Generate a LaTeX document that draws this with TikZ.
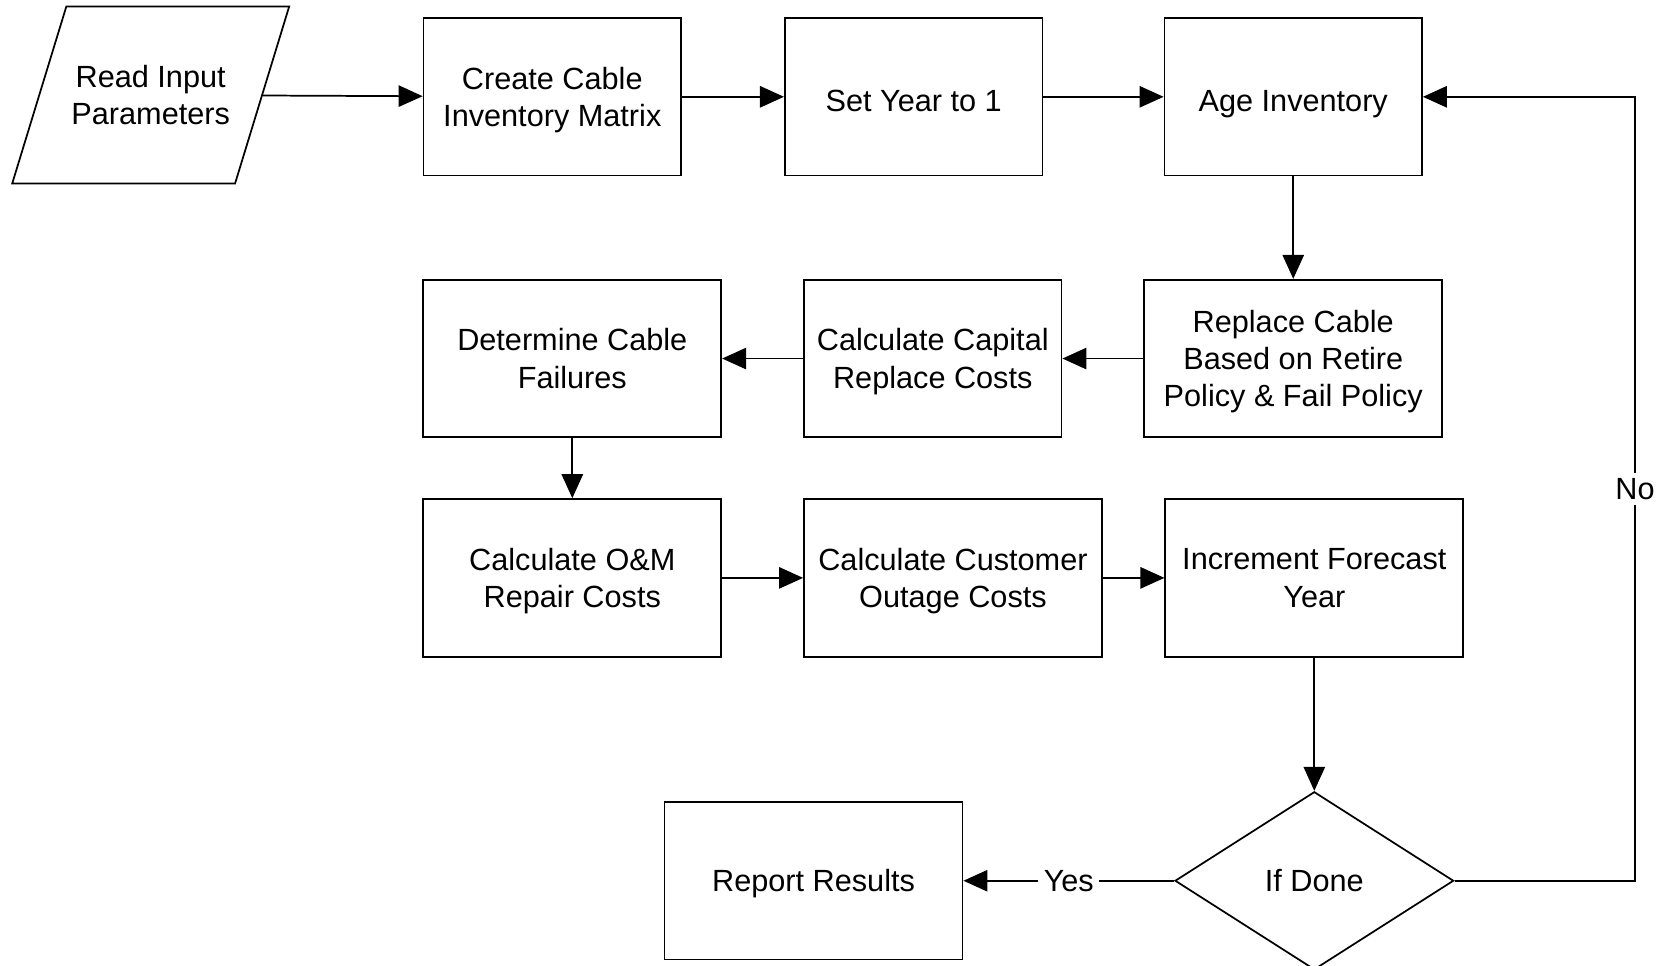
\documentclass[tikz,border=0pt]{standalone}
\usepackage{fontspec}
\setmainfont{Liberation Sans}
\usetikzlibrary{positioning,arrows.meta,shapes.geometric}

\begin{document}
\begin{tikzpicture}[x=0.75pt, y=-0.75pt, font=\fontsize{23}{28}\selectfont, line width=1.3pt,
  txt/.style={align=center, text depth=-4.8pt},
  low/.style={execute at begin node={\rule{0pt}{21.3pt}}},
  box/.style={draw, txt, minimum width=193.2pt, minimum height=118.2pt, inner sep=2pt},
  wbox/.style={box, minimum width=223.5pt},
  io/.style={draw, txt, trapezium, trapezium left angle=73, trapezium right angle=107, trapezium stretches body=true,
    minimum width=207.75pt, minimum height=124.5pt, inner xsep=0pt, inner ysep=44.1pt},
  dec/.style={draw, diamond, minimum width=209pt, minimum height=133.5pt, inner sep=0pt},
  arr/.style={-{Triangle[length=18pt, width=16pt]}},
  lbl/.style={fill=white, inner sep=4pt}]
\useasboundingbox (0,0) rectangle (1669,965);
% top row
\node[io] (rip) at (150.7,95) {Read Input\\Parameters};
\node[box] (ccim) at (552.3,96.8) {Create Cable\\Inventory Matrix};
\node[box, low, right=76.5pt of ccim] (sy1) {Set Year to 1}; \node[box, low, right=90.2pt of sy1] (age) {Age Inventory};
\draw[arr] (rip) -- (ccim); \draw[arr] (ccim) -- (sy1); \draw[arr] (sy1) -- (age);
% second row, right to left
\node[wbox, below=76.8pt of age] (rcp) {Replace Cable\\Based on Retire\\Policy \& Fail Policy};
\node[box, left=60.7pt of rcp] (ccrc) {Calculate Capital\\Replace Costs};
\node[wbox, left=60.7pt of ccrc] (dcf) {Determine Cable\\Failures};
\draw[arr] (age) -- (rcp); \draw[arr] (rcp) -- (ccrc); \draw[arr] (ccrc) -- (dcf);
% third row
\node[wbox, below=45pt of dcf] (omr) {Calculate O\&M\\Repair Costs};
\node[wbox, right=60.7pt of omr] (coc) {Calculate Customer\\Outage Costs};
\node[wbox, right=46.2pt of coc] (ify) {Increment Forecast\\Year};
\draw[arr] (dcf) -- (omr); \draw[arr] (omr) -- (coc); \draw[arr] (coc) -- (ify);
% decision and loop back
\node[dec, below=100pt of ify] (done) {If Done};
\node[wbox, left=158pt of done] (rep) {Report Results};
\coordinate (lp) at (1635,0);
\draw[arr] (ify) -- (done);
\draw[arr] (done) -- node[lbl] {Yes} (rep);
\draw[arr] (done.east) -- (done.east -| lp) -- node[lbl] {No} (age.east -| lp) -- (age.east);
\end{tikzpicture}
\end{document}
